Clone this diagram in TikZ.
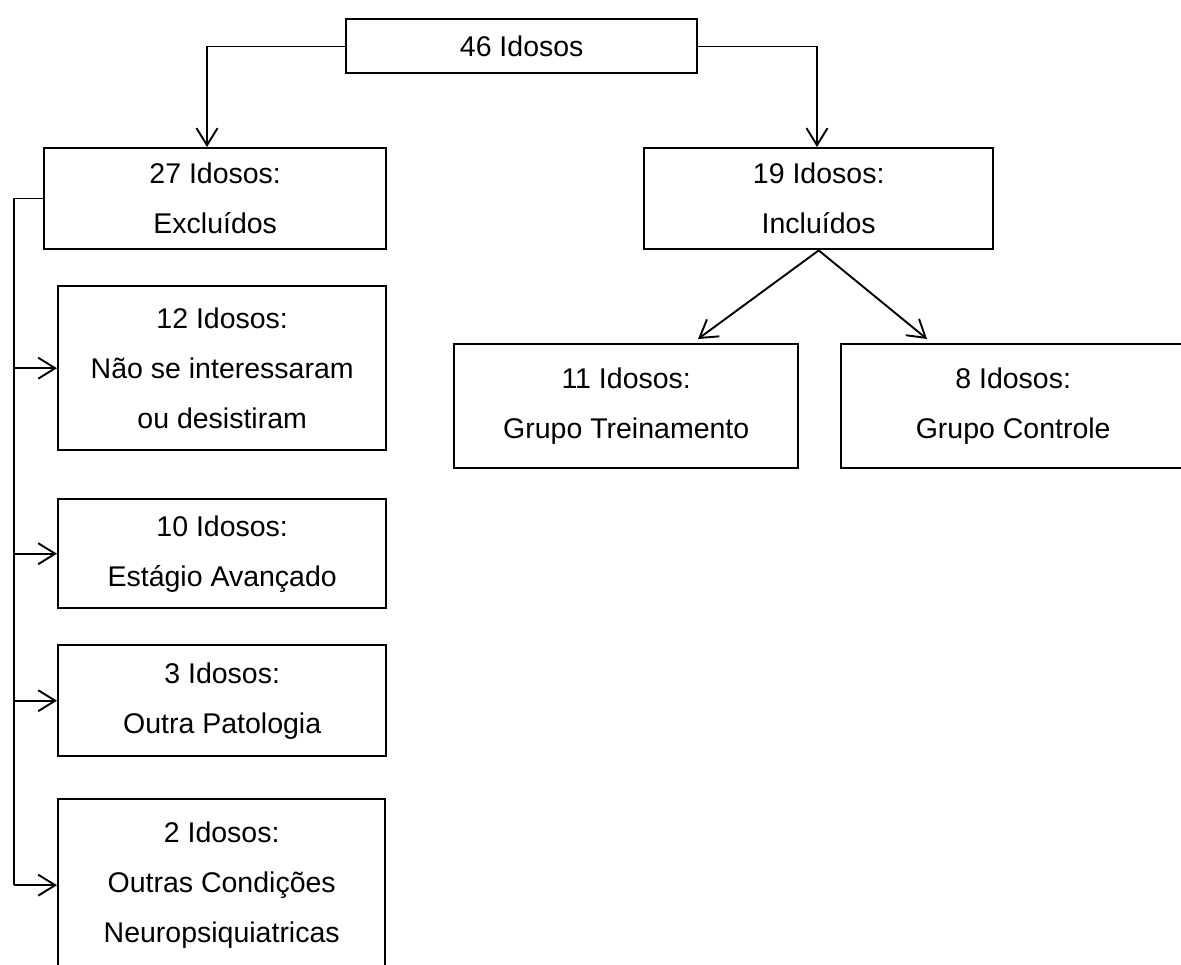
\documentclass[tikz,border=0pt]{standalone}
\usepackage{fontspec}
\setmainfont{Liberation Sans}
\usetikzlibrary{arrows.meta,calc}
\begin{document}
\begin{tikzpicture}[x=1pt,y=-1pt,
  box/.style={draw,line width=2.4pt,rectangle,anchor=north west,align=center,inner sep=0pt,font=\fontsize{28.5}{50}\selectfont},
  thinline/.style={line width=1.2pt},
  arr/.style={line width=1.9pt,-{Straight Barb[length=17pt,width=21pt,line width=1.9pt]}}]
\useasboundingbox (0,0) rectangle (1181,965);
\clip (0,0) rectangle (1181,965);
\node[box,minimum width=351pt,minimum height=54pt] (top) at (345,18) {46 Idosos};
\node[box,minimum width=342pt,minimum height=101pt] (b27) at (43,147) {27 Idosos:\\Excluídos};
\node[box,minimum width=349pt,minimum height=101pt] (b19) at (643,147) {19 Idosos:\\Incluídos};
\node[box,minimum width=344pt,minimum height=124pt] (b11) at (453,343) {11 Idosos:\\Grupo Treinamento};
\node[box,minimum width=344pt,minimum height=124pt] (b8) at (840,343) {8 Idosos:\\Grupo Controle};
\node[box,minimum width=328pt,minimum height=164pt] (b12) at (57,285) {12 Idosos:\\Não se interessaram\\ou desistiram};
\node[box,minimum width=328pt,minimum height=109pt] (b10) at (57,498) {10 Idosos:\\Estágio Avançado};
\node[box,minimum width=328pt,minimum height=111pt] (b3) at (57,644) {3 Idosos:\\Outra Patologia};
\node[box,minimum width=327pt,minimum height=172pt] (b2) at (57,798) {2 Idosos:\\Outras Condições\\Neuropsiquiatricas};
\coordinate (cL) at (207,0);
\coordinate (cR) at (817,0);
\coordinate (cV) at (14,0);
\coordinate (t11) at (698,339);
\coordinate (t8) at (927,339);
\draw[thinline] (top.west) -- (top.west -| cL);
\draw[arr] (top.west -| cL) -- (b27.north -| cL);
\draw[thinline] (top.east) -- (top.east -| cR);
\draw[arr] (top.east -| cR) -- (b19.north -| cR);
\draw[arr] (b19.south) -- (t11);
\draw[arr] (b19.south) -- (t8);
\draw[thinline] (b27.west) -- (b27.west -| cV) -- (b2.west -| cV);
\foreach \b in {b12,b10,b3,b2} \draw[arr] (\b.west -| cV) -- (\b.west);
\end{tikzpicture}
\end{document}
